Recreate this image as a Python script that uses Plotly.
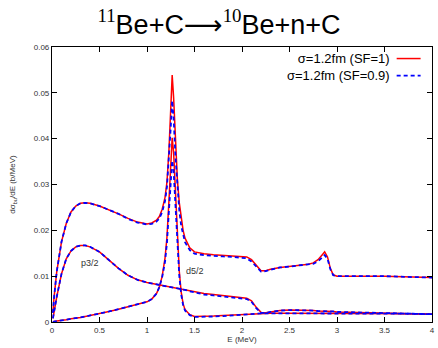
import plotly.graph_objects as go

# Energy grid (MeV)
energy = [0.01, 0.02, 0.05, 0.1, 0.15, 0.2, 0.25, 0.3, 0.35, 0.4,
          0.5, 0.6, 0.7, 0.8, 0.9, 1.0, 1.05, 1.1, 1.13, 1.16,
          1.19, 1.21, 1.23, 1.25, 1.265, 1.28, 1.30, 1.32, 1.34, 1.36,
          1.38, 1.4, 1.45, 1.5, 1.6, 1.7, 1.8, 1.9, 2.0, 2.05,
          2.1, 2.15, 2.2, 2.25, 2.3, 2.4, 2.5, 2.6, 2.7, 2.75,
          2.8, 2.85, 2.87, 2.9, 2.93, 2.96, 3.0, 3.2, 3.5, 3.8,
          4.0]

# Total, SF=1 (red)
total_sf1 = [0.002, 0.005, 0.011, 0.0175, 0.0215, 0.0240, 0.0253, 0.0259, 0.0260, 0.0259,
             0.0253, 0.0245, 0.0236, 0.0226, 0.0218, 0.0214, 0.0216, 0.0222, 0.0230, 0.0246,
             0.0272, 0.0305, 0.0370, 0.0465, 0.0539, 0.0490, 0.0390, 0.0310, 0.0260, 0.0225,
             0.0200, 0.0183, 0.0162, 0.0153, 0.0149, 0.0147, 0.0146, 0.0145, 0.0144, 0.0142,
             0.0136, 0.0124, 0.0112, 0.0112, 0.0115, 0.0119, 0.0121, 0.0123, 0.0126, 0.0129,
             0.0136, 0.0148, 0.0153, 0.0142, 0.0117, 0.0103, 0.0100, 0.0100, 0.0100, 0.0098,
             0.0097]

# Total, SF=0.9 (blue)
total_sf09 = [0.002, 0.005, 0.011, 0.0175, 0.0215, 0.0240, 0.0253, 0.0259, 0.0260, 0.0259,
              0.0253, 0.0245, 0.0236, 0.0225, 0.0217, 0.0213, 0.0214, 0.0219, 0.0226, 0.0240,
              0.0264, 0.0295, 0.0350, 0.0425, 0.0483, 0.0445, 0.0360, 0.0290, 0.0243, 0.0210,
              0.0188, 0.0174, 0.0157, 0.0149, 0.0146, 0.0144, 0.0143, 0.0142, 0.0141, 0.0139,
              0.0132, 0.0120, 0.0110, 0.0111, 0.0114, 0.0119, 0.0121, 0.0123, 0.0125, 0.0127,
              0.0132, 0.0142, 0.0146, 0.0138, 0.0115, 0.0102, 0.0100, 0.0100, 0.0100, 0.0098,
              0.0097]

# p3/2 component
p32_sf1 = [0.0008, 0.002, 0.0055, 0.0105, 0.0138, 0.0155, 0.0164, 0.0167, 0.0167, 0.0164,
           0.0153, 0.0135, 0.0117, 0.0102, 0.0092, 0.0086, 0.0084, 0.0082, 0.0081, 0.0080,
           0.0079, 0.0078, 0.0078, 0.0077, 0.0076, 0.0076, 0.0075, 0.0074, 0.0073, 0.0072,
           0.0071, 0.0070, 0.0068, 0.0066, 0.0062, 0.0060, 0.0058, 0.0056, 0.0054, 0.0052,
           0.0046, 0.0032, 0.0021, 0.0020, 0.0022, 0.0025, 0.0026, 0.0026, 0.0025, 0.0025,
           0.0024, 0.0024, 0.0024, 0.0023, 0.0023, 0.0023, 0.0022, 0.0021, 0.0019, 0.0018,
           0.0017]

p32_sf09 = [0.0008, 0.002, 0.0055, 0.0105, 0.0138, 0.0155, 0.0164, 0.0167, 0.0167, 0.0164,
            0.0153, 0.0135, 0.0117, 0.0102, 0.0092, 0.0086, 0.0084, 0.0082, 0.0081, 0.0080,
            0.0079, 0.0078, 0.0078, 0.0077, 0.0076, 0.0076, 0.0075, 0.0074, 0.0073, 0.0072,
            0.0071, 0.0070, 0.0067, 0.0065, 0.0060, 0.0058, 0.0056, 0.0054, 0.0052, 0.0050,
            0.0044, 0.0030, 0.0020, 0.0020, 0.0022, 0.0025, 0.0026, 0.0026, 0.0025, 0.0025,
            0.0024, 0.0024, 0.0024, 0.0023, 0.0023, 0.0023, 0.0022, 0.0021, 0.0019, 0.0018,
            0.0017]

# d5/2 component
d52_sf1 = [0.0000, 0.0001, 0.0002, 0.0003, 0.0005, 0.0007, 0.0008, 0.0010, 0.0012, 0.0014,
           0.0018, 0.0023, 0.0028, 0.0033, 0.0038, 0.0044, 0.0050, 0.0062, 0.0076, 0.0100,
           0.0140, 0.0185, 0.0260, 0.0350, 0.0402, 0.0370, 0.0290, 0.0190, 0.0110, 0.0065,
           0.0040, 0.0027, 0.0016, 0.0012, 0.0012, 0.0013, 0.0014, 0.0015, 0.0016, 0.0017,
           0.0017, 0.0018, 0.0019, 0.0019, 0.0019, 0.0019, 0.0019, 0.0019, 0.0019, 0.0019,
           0.0019, 0.0019, 0.0019, 0.0019, 0.0019, 0.0019, 0.0019, 0.0019, 0.0018, 0.0018,
           0.0017]

d52_sf09 = [0.0000, 0.0001, 0.0002, 0.0003, 0.0005, 0.0007, 0.0008, 0.0010, 0.0012, 0.0014,
            0.0018, 0.0023, 0.0028, 0.0033, 0.0038, 0.0044, 0.0050, 0.0062, 0.0076, 0.0098,
            0.0132, 0.0172, 0.0240, 0.0315, 0.0352, 0.0330, 0.0262, 0.0172, 0.0100, 0.0060,
            0.0037, 0.0025, 0.0015, 0.0011, 0.0011, 0.0012, 0.0013, 0.0014, 0.0015, 0.0016,
            0.0017, 0.0018, 0.0019, 0.0019, 0.0019, 0.0019, 0.0019, 0.0019, 0.0019, 0.0019,
            0.0019, 0.0019, 0.0019, 0.0019, 0.0019, 0.0019, 0.0019, 0.0019, 0.0018, 0.0018,
            0.0017]

legend_labels = ["σ=1.2fm (SF=1)", "σ=1.2fm (SF=0.9)"]
x_ticks = [0, 0.5, 1, 1.5, 2, 2.5, 3, 3.5, 4]
x_tick_text = ["0", "0.5", "1", "1.5", "2", "2.5", "3", "3.5", "4"]
y_ticks = [0, 0.01, 0.02, 0.03, 0.04, 0.05, 0.06]
y_tick_text = ["0", "0.01", "0.02", "0.03", "0.04", "0.05", "0.06"]

RED = "#ff0000"
BLUE = "#0000ff"

fig = go.Figure()
for ys in (total_sf1, p32_sf1, d52_sf1):
    fig.add_trace(go.Scatter(x=energy, y=ys, mode="lines", name=legend_labels[0],
                             line=dict(color=RED, width=1.5), showlegend=False))
for ys in (total_sf09, p32_sf09, d52_sf09):
    fig.add_trace(go.Scatter(x=energy, y=ys, mode="lines", name=legend_labels[1],
                             line=dict(color=BLUE, width=1.8, dash="4px,3px"), showlegend=False))

font_main = "Liberation Sans, Arial, Helvetica, sans-serif"
font_serif = "Liberation Serif, Times New Roman, serif"

annotations = [
    dict(x=0.4, y=0.0129, xref="x", yref="y", text="p3/2", showarrow=False,
         font=dict(size=9, color="#333333", family=font_main)),
    dict(x=1.5, y=0.0112, xref="x", yref="y", text="d5/2", showarrow=False,
         font=dict(size=9, color="#333333", family=font_main)),
    dict(x=0.894, y=0.926, xref="paper", yref="paper",
         text="<br>".join(legend_labels), align="right",
         showarrow=False, xanchor="right", yanchor="middle",
         font=dict(size=13, color="black", family=font_main)),
]
legend_y = [0.958, 0.896]

shapes = [
    dict(type="line", xref="paper", yref="paper", x0=0.907, x1=0.970,
         y0=legend_y[0], y1=legend_y[0], line=dict(color=RED, width=1.5)),
    dict(type="line", xref="paper", yref="paper", x0=0.907, x1=0.970,
         y0=legend_y[1], y1=legend_y[1], line=dict(color=BLUE, width=1.8, dash="4px,3px")),
]

title_text = (f'<span style="font-family:{font_serif}"><sup>11</sup></span>Be+C'
              f'<span style="font-family:DejaVu Sans">⟶</span>'
              f'<span style="font-family:{font_serif}"><sup>10</sup></span>Be+n+C')

fig.update_layout(
    width=438, height=348,
    margin=dict(l=52, r=3, t=47, b=26),
    paper_bgcolor="white", plot_bgcolor="white",
    title=dict(text=title_text, x=0.5, xanchor="center", y=0.93, yanchor="middle",
               font=dict(size=27, color="black", family=font_main)),
    xaxis=dict(range=[0, 4], tickvals=x_ticks, ticktext=x_tick_text,
               ticks="inside", ticklen=5, tickcolor="black", mirror="allticks",
               showline=True, linecolor="black", linewidth=1.2, showgrid=False, zeroline=False,
               tickfont=dict(size=8, color="#333333", family=font_main),
               title=dict(text="E (MeV)", standoff=2,
                          font=dict(size=8, color="#333333", family=font_main))),
    yaxis=dict(range=[0, 0.06], tickvals=y_ticks, ticktext=y_tick_text,
               ticks="inside", ticklen=5, tickcolor="black", mirror="allticks",
               showline=True, linecolor="black", linewidth=1.2, showgrid=False, zeroline=False,
               tickfont=dict(size=8, color="#333333", family=font_main),
               title=dict(text="dσ<sub>bu</sub>/dE (b/MeV)", standoff=16,
                          font=dict(size=8, color="#333333", family=font_main))),
    annotations=annotations,
    shapes=shapes,
)

fig.write_html("out.html", config={"displayModeBar": False},
               post_script="document.body.style.margin='0';document.body.style.padding='0';")
